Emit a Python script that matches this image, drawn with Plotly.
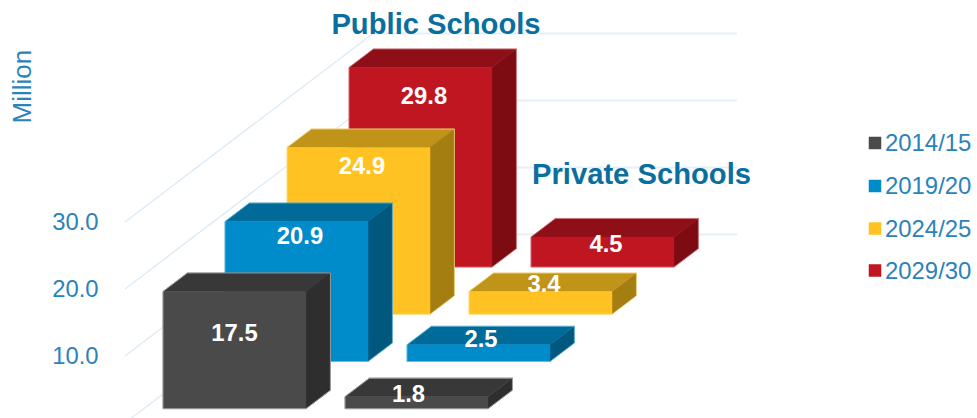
import plotly.graph_objects as go

# ---- data ----
periods = ["2014/15", "2019/20", "2024/25", "2029/30"]
public_schools = [17.5, 20.9, 24.9, 29.8]
private_schools = [1.8, 2.5, 3.4, 4.5]
tick_values = [0, 10, 20, 30]
tick_labels = {10: "10.0", 20: "20.0", 30: "30.0"}

# ---- style ----
FONT = "Liberation Sans"
W, H = 977, 418
TICK_COLOR = "#2a83ba"
TITLE_COLOR = "#0a6f9e"
GRID_COLOR = "#dbeaf6"
front_colors = ["#4a4a4a", "#008bca", "#ffc222", "#bf1622"]
top_colors = ["#383838", "#006b99", "#c09418", "#8e0f18"]
side_colors = ["#2e2e2e", "#00587f", "#a57e12", "#7c0c12"]
edge_colors = ["rgba(165,165,165,0.9)", "rgba(120,195,230,0.7)",
               "rgba(255,228,150,0.7)", "rgba(225,140,145,0.7)"]

# projection constants (oblique view of a 3D column chart)
PX_PER_UNIT = 6.7
BASE_PX = 408.7
BAR_W = 143.0
DEPTH_X, DEPTH_V = 24.4, 18.5 / PX_PER_UNIT
STEP_X, STEP_V = 62.0, 47.2 / PX_PER_UNIT
GROUP_X = {"public": 163.0, "private": 345.0}
TEXT_DY = 2.3  # px: Plotly's middle-anchored text sits slightly high


def v_of_px(py):
    """value-axis coordinate of a pixel row"""
    return (BASE_PX - py) / PX_PER_UNIT


def box(group, i, value):
    x0 = GROUP_X[group] + i * STEP_X
    x1 = x0 + BAR_W
    b = i * STEP_V
    t = b + value
    return x0, x1, b, t


fig = go.Figure()


def poly(xs, ys, fill=None, line=None, width=1):
    fig.add_trace(go.Scatter(
        x=xs, y=ys, mode="lines", showlegend=False, hoverinfo="skip",
        fill="toself" if fill else "none", fillcolor=fill,
        line=dict(color=line or fill, width=width if line else 0.5),
    ))


# gridlines: oblique run across the floor side wall, then along the back wall
WALL_LEFT, WALL_X, WALL_END = 125, 373, 737
for tv in tick_values:
    back_v = v_of_px(234.5) + tv
    front_v = v_of_px(423) + tv
    poly([WALL_LEFT, WALL_X], [front_v, back_v], line=GRID_COLOR, width=1.3)
    poly([WALL_X, WALL_END], [back_v, back_v], line="#e4eff8", width=2)

# bars, back to front
for group, vals in (("public", public_schools), ("private", private_schools)):
    for i in range(len(vals) - 1, -1, -1):
        x0, x1, b, t = box(group, i, vals[i])
        poly([x1, x1 + DEPTH_X, x1 + DEPTH_X, x1, x1],
             [b, b + DEPTH_V, t + DEPTH_V, t, b], fill=side_colors[i])
        poly([x0, x0 + DEPTH_X, x1 + DEPTH_X, x1, x0],
             [t, t + DEPTH_V, t + DEPTH_V, t, t], fill=top_colors[i])
        poly([x0, x1, x1, x0, x0], [b, b, t, t, b], fill=front_colors[i])
        poly([x0, x0, x0 + DEPTH_X, x1 + DEPTH_X, x1 + DEPTH_X, x1, x0],
             [b, t, t + DEPTH_V, t + DEPTH_V, b + DEPTH_V, b, b],
             line=edge_colors[i], width=1)

# value labels: nudges from each bar's front-top centre (x px, y px below top)
label_nudge = {
    "public": [(0, 41), (3.5, 14), (3.5, 18), (3.5, 28)],
    "private": [(-8, -3), (2.5, -6), (3.5, -8), (3.5, 7)],
}
for group, vals in (("public", public_schools), ("private", private_schools)):
    xs, ys, txt = [], [], []
    for i, v in enumerate(vals):
        x0, x1, b, t = box(group, i, v)
        dx, dy = label_nudge[group][i]
        xs.append((x0 + x1) / 2 + dx)
        ys.append(t - (dy + TEXT_DY) / PX_PER_UNIT)
        txt.append(f"{v:.1f}")
    fig.add_trace(go.Scatter(
        x=xs, y=ys, text=txt, mode="text", showlegend=False, hoverinfo="skip",
        textposition="middle center",
        textfont=dict(family=FONT, size=23.8, color="white", weight="bold"),
    ))

# tick labels
tick_keys = list(tick_labels)
fig.add_trace(go.Scatter(
    x=[98.5] * len(tick_keys),
    y=[v_of_px(423 + TEXT_DY) + k for k in tick_keys],
    text=[tick_labels[k] for k in tick_keys],
    mode="text", textposition="middle left", showlegend=False, hoverinfo="skip",
    textfont=dict(family=FONT, size=23.8, color=TICK_COLOR),
))

# legend (swatches + text)
legend_px = [143, 186, 228.5, 270.5]
for i, p in enumerate(periods):
    fig.add_trace(go.Scatter(
        x=[875], y=[v_of_px(legend_px[i])], mode="markers",
        showlegend=False, hoverinfo="skip",
        marker=dict(symbol="square", size=12.5, color=front_colors[i]),
    ))
    fig.add_trace(go.Scatter(
        x=[885], y=[v_of_px(legend_px[i] + TEXT_DY)], text=[p], mode="text",
        textposition="middle right", showlegend=False, hoverinfo="skip",
        textfont=dict(family=FONT, size=23.9, color=TICK_COLOR),
    ))

# panel titles and unit
for txt, cx, py in (("Public Schools", 436, 24.5), ("Private Schools", 641.5, 174)):
    fig.add_trace(go.Scatter(
        x=[cx], y=[v_of_px(py + TEXT_DY)], text=[txt], mode="text", showlegend=False,
        hoverinfo="skip", textposition="middle center",
        textfont=dict(family=FONT, size=29.2, color=TITLE_COLOR, weight="bold"),
    ))

fig.add_annotation(
    x=21.5, y=v_of_px(87), text="Million", textangle=-90, showarrow=False,
    xref="x", yref="y", font=dict(family=FONT, size=26, color=TICK_COLOR),
)

fig.update_layout(
    width=W, height=H, margin=dict(l=0, r=0, t=0, b=0),
    paper_bgcolor="white", plot_bgcolor="white", showlegend=False,
    xaxis=dict(range=[0, W], visible=False, fixedrange=True),
    yaxis=dict(range=[v_of_px(H), v_of_px(0)], visible=False, fixedrange=True),
)
fig.write_html(
    "out.html",
    config={"displayModeBar": False},
    post_script="document.body.style.margin='0';document.documentElement.style.overflow='hidden';",
)
